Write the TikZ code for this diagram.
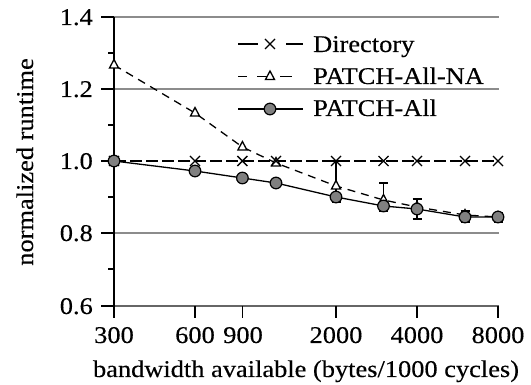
\documentclass[tikz,border=0pt]{standalone}
\usepackage{fontspec}
\usepackage{graphicx}
\setmainfont[FakeBold=0.3]{Liberation Serif}
\newcommand\wtxt[1]{\scalebox{1.1}[1]{#1}}
\begin{document}
\begin{tikzpicture}[x=1pt,y=-1pt,
  font=\fontsize{24}{28}\selectfont,
  gridline/.style={draw=black!45, line width=1.1pt},
  axisline/.style={draw=black, line width=1.4pt},
  tickline/.style={draw=black, line width=1.3pt},
  dirline/.style={draw=black, line width=1.5pt, dash pattern=on 12pt off 4pt},
  naline/.style={draw=black, line width=1.3pt, dash pattern=on 8pt off 6pt},
  allline/.style={draw=black, line width=1.3pt},
  legseg/.style={draw=black, line width=1.4pt},
  errbar/.style={draw=black, line width=1.2pt},
  xmk/.style={draw=black, line width=1.4pt},
  trimk/.style={draw=black, fill=white, line width=1.3pt},
  circmk/.style={draw=black, fill=black!50, line width=1.2pt},
  lbl/.style={inner sep=0pt}]
\useasboundingbox (0,0) rectangle (531,385);

% positions
\foreach \i/\xx/\ya/\yn in {1/114/161/65, 2/195/171/113, 3/242.4/178/147, 4/276/183/163,
   5/336/197/186, 6/383.5/206/200, 7/417/209/207, 8/465/217/215, 9/498/217/217}{
  \coordinate (d\i) at (\xx,161);
  \coordinate (p\i) at (\xx,\ya);
  \coordinate (n\i) at (\xx,\yn);
}

% grid lines
\foreach \yy in {17,89,233}{
  \draw[gridline] (114,\yy) -- (499,\yy);
}
\draw[draw=black!60, line width=1.8pt] (114,306) -- (499,306);

% left axis
\draw[axisline] (114,17) -- (114,306);
\foreach \yy in {17,89,161,233,306}{ \draw[tickline] (101,\yy) -- (114,\yy); }
\foreach \yy in {53,125,197,269}{ \draw[tickline] (108,\yy) -- (114,\yy); }
% x ticks
\foreach \xx in {114,195,242.4,336,417,498}{ \draw[tickline] (\xx,306) -- (\xx,318); }

% y tick labels
\node[lbl, anchor=base east] (y14) at (93,25) {\wtxt{1.4}};
\node[lbl, anchor=base east] (y12) at (93,97) {\wtxt{1.2}};
\node[lbl, anchor=base east] (y10) at (93,169) {\wtxt{1.0}};
\node[lbl, anchor=base east] (y08) at (93,241) {\wtxt{0.8}};
\node[lbl, anchor=base east] (y06) at (93,314) {\wtxt{0.6}};
% x tick labels
\node[lbl, anchor=base] (x300) at (114,343) {\wtxt{300}};
\node[lbl, anchor=base] (x600) at (195,343) {\wtxt{600}};
\node[lbl, anchor=base] (x900) at (243,343) {\wtxt{900}};
\node[lbl, anchor=base] (x2000) at (336,343) {\wtxt{2000}};
\node[lbl, anchor=base] (x4000) at (417,343) {\wtxt{4000}};
\node[lbl, anchor=base] (x8000) at (498,343) {\wtxt{8000}};
% axis titles
\node[lbl, anchor=base] (xtitle) at (306,377) {\wtxt{bandwidth available (bytes/1000 cycles)}};
\node[lbl, anchor=base, rotate=90] (ytitle) at (33,162) {\wtxt{normalized runtime}};

% data lines
\draw[naline] (n1) -- (n2) -- (n3) -- (n4) -- (n5) -- (n6) -- (n7) -- (n8) -- (n9);
\draw[dirline] (d1) -- (d2) -- (d3) -- (d4) -- (d5) -- (d6) -- (d7) -- (d8) -- (d9);
\draw[allline] (p1) -- (p2) -- (p3) -- (p4) -- (p5) -- (p6) -- (p7) -- (p8) -- (p9);

% error bars
\foreach \xx/\ta/\tb in {336/161/202, 383.5/183/211, 417/199/219, 465/211/222, 498/212.5/222}{
  \draw[errbar] (\xx,\ta) -- (\xx,\tb) (\xx-4.5,\ta) -- (\xx+4.5,\ta) (\xx-4.5,\tb) -- (\xx+4.5,\tb);
}

% triangle markers
\foreach \i in {1,...,9}{
  \draw[trimk] (n\i) ++(0,-5.5) -- ++(4.5,8.5) -- ++(-9,0) -- cycle;
}
% x markers
\foreach \i in {1,...,9}{
  \draw[xmk] (d\i) ++(-5,-5) -- ++(10,10) (d\i) ++(-5,5) -- ++(10,-10);
}
% circle markers
\foreach \i in {1,...,9}{
  \draw[circmk] (p\i) circle[radius=5.8];
}

% legend
\coordinate (l1m) at (270,44);
\coordinate (l2m) at (270,76.5);
\coordinate (l3m) at (270,109);
\draw[legseg] (238,44) -- (258,44) (286,44) -- (303,44);
\draw[xmk] (l1m) ++(-5,-5) -- ++(10,10) (l1m) ++(-5,5) -- ++(10,-10);
\draw[legseg] (238,76.5) -- (247,76.5) (257,76.5) -- (267,76.5) (280,76.5) -- (292,76.5);
\draw[trimk] (l2m) ++(0,-5.5) -- ++(4.5,8.5) -- ++(-9,0) -- cycle;
\draw[legseg] (238,109) -- (303,109);
\draw[circmk] (l3m) circle[radius=5.8];
\node[lbl, anchor=base west] (leg1) at (313,52) {\wtxt{Directory}};
\node[lbl, anchor=base west] (leg2) at (313,84) {\wtxt{PATCH-All-NA}};
\node[lbl, anchor=base west] (leg3) at (313,116) {\wtxt{PATCH-All}};
\end{tikzpicture}
\end{document}
